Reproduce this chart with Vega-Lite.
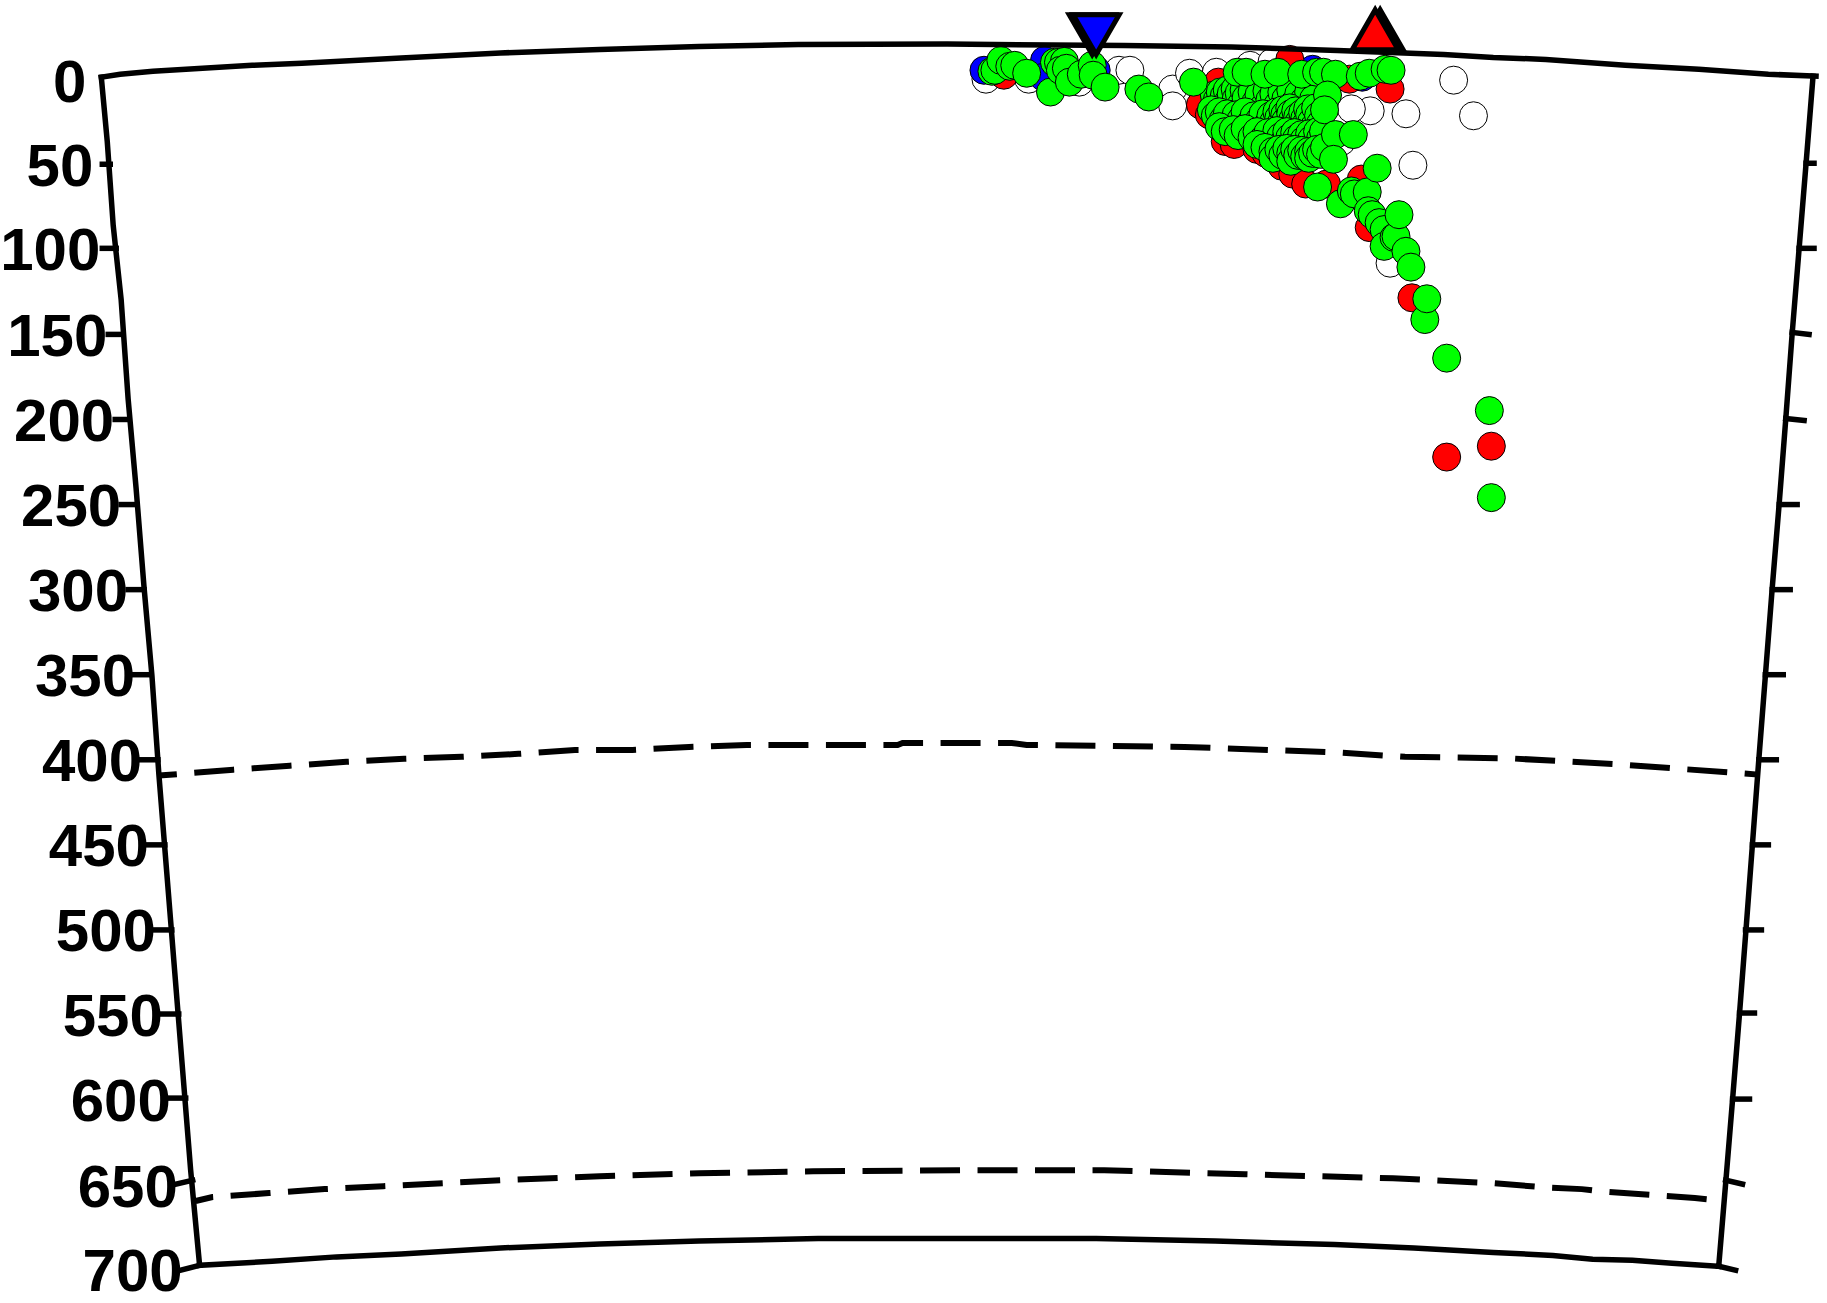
{"$schema":"https://vega.github.io/schema/vega-lite/v6.json","width":1827,"height":1303,"padding":0,"autosize":{"type":"fit","contains":"padding"},"config":{"view":{"stroke":null}},
"datasets":{
"lines":[
{"seg":"top","dist":98,"depth":75},{"seg":"top","dist":117,"depth":72},{"seg":"top","dist":150,"depth":69},{"seg":"top","dist":200,"depth":66},{"seg":"top","dist":250,"depth":63},{"seg":"top","dist":300,"depth":61},{"seg":"top","dist":400,"depth":55.5},{"seg":"top","dist":500,"depth":50.5},{"seg":"top","dist":600,"depth":47},{"seg":"top","dist":700,"depth":44},{"seg":"top","dist":800,"depth":42},{"seg":"top","dist":950,"depth":41.5},{"seg":"top","dist":1128,"depth":43},{"seg":"top","dist":1236,"depth":44.5},{"seg":"top","dist":1343,"depth":48},{"seg":"top","dist":1450,"depth":52},{"seg":"top","dist":1500,"depth":55},{"seg":"top","dist":1553,"depth":57},{"seg":"top","dist":1633,"depth":63},{"seg":"top","dist":1707,"depth":67},{"seg":"top","dist":1777,"depth":72},{"seg":"top","dist":1825,"depth":74},
{"seg":"left","dist":98,"depth":75},{"seg":"left","dist":104,"depth":140},{"seg":"left","dist":110,"depth":225},{"seg":"left","dist":118,"depth":300},{"seg":"left","dist":125,"depth":400},{"seg":"left","dist":133,"depth":490},{"seg":"left","dist":141,"depth":590},{"seg":"left","dist":149,"depth":680},{"seg":"left","dist":156,"depth":780},{"seg":"left","dist":164,"depth":880},{"seg":"left","dist":172,"depth":980},{"seg":"left","dist":180,"depth":1080},{"seg":"left","dist":188,"depth":1180},{"seg":"left","dist":197,"depth":1276},
{"seg":"right","dist":1822,"depth":74},{"seg":"right","dist":1815,"depth":162},{"seg":"right","dist":1808,"depth":248},{"seg":"right","dist":1801,"depth":334},{"seg":"right","dist":1794.5,"depth":421},{"seg":"right","dist":1788,"depth":505},{"seg":"right","dist":1781,"depth":590},{"seg":"right","dist":1774,"depth":680},{"seg":"right","dist":1767,"depth":770},{"seg":"right","dist":1761,"depth":850},{"seg":"right","dist":1755,"depth":930},{"seg":"right","dist":1748,"depth":1021},{"seg":"right","dist":1741,"depth":1108},{"seg":"right","dist":1734,"depth":1193},{"seg":"right","dist":1727,"depth":1277},
{"seg":"bottom","dist":197,"depth":1276},{"seg":"bottom","dist":270,"depth":1272},{"seg":"bottom","dist":335,"depth":1267.5},{"seg":"bottom","dist":400,"depth":1264.5},{"seg":"bottom","dist":500,"depth":1258.5},{"seg":"bottom","dist":600,"depth":1254.5},{"seg":"bottom","dist":700,"depth":1251.5},{"seg":"bottom","dist":820,"depth":1249},{"seg":"bottom","dist":960,"depth":1249},{"seg":"bottom","dist":1100,"depth":1249},{"seg":"bottom","dist":1220,"depth":1251.5},{"seg":"bottom","dist":1340,"depth":1255},{"seg":"bottom","dist":1420,"depth":1258.5},{"seg":"bottom","dist":1500,"depth":1263},{"seg":"bottom","dist":1560,"depth":1266},{"seg":"bottom","dist":1600,"depth":1270},{"seg":"bottom","dist":1640,"depth":1271},{"seg":"bottom","dist":1680,"depth":1274},{"seg":"bottom","dist":1727,"depth":1277},
{"seg":"l50","dist":99,"depth":163},{"seg":"l50","dist":107,"depth":163},{"seg":"l100","dist":99,"depth":248},{"seg":"l100","dist":113,"depth":248},{"seg":"l150","dist":105,"depth":335},{"seg":"l150","dist":119,"depth":335},{"seg":"l200","dist":112,"depth":421},{"seg":"l200","dist":126,"depth":421},{"seg":"l250","dist":118,"depth":507},{"seg":"l250","dist":134,"depth":507},{"seg":"l300","dist":125,"depth":593},{"seg":"l300","dist":141,"depth":593},{"seg":"l350","dist":131,"depth":679},{"seg":"l350","dist":148,"depth":679},{"seg":"l400","dist":138,"depth":765},{"seg":"l400","dist":155,"depth":765},{"seg":"l450","dist":145,"depth":851},{"seg":"l450","dist":162,"depth":851},{"seg":"l500","dist":152,"depth":937},{"seg":"l500","dist":169,"depth":937},{"seg":"l550","dist":159,"depth":1022},{"seg":"l550","dist":176,"depth":1022},{"seg":"l600","dist":167,"depth":1107},{"seg":"l600","dist":183,"depth":1107},{"seg":"l650","dist":173,"depth":1194},{"seg":"l650","dist":190,"depth":1190},{"seg":"l700","dist":178,"depth":1281},{"seg":"l700","dist":197,"depth":1276},
{"seg":"r50","dist":1815,"depth":162},{"seg":"r50","dist":1823,"depth":162},{"seg":"r100","dist":1808,"depth":248},{"seg":"r100","dist":1823,"depth":248},{"seg":"r150","dist":1801,"depth":333},{"seg":"r150","dist":1818,"depth":335},{"seg":"r200","dist":1794.5,"depth":420},{"seg":"r200","dist":1813,"depth":422},{"seg":"r250","dist":1788,"depth":507},{"seg":"r250","dist":1806,"depth":507},{"seg":"r300","dist":1781,"depth":593},{"seg":"r300","dist":1799,"depth":593},{"seg":"r350","dist":1774,"depth":679},{"seg":"r350","dist":1792,"depth":679},{"seg":"r400","dist":1767.5,"depth":765},{"seg":"r400","dist":1785,"depth":765},{"seg":"r450","dist":1761,"depth":851},{"seg":"r450","dist":1777,"depth":851},{"seg":"r500","dist":1754,"depth":937},{"seg":"r500","dist":1770,"depth":937},{"seg":"r550","dist":1748,"depth":1021},{"seg":"r550","dist":1763,"depth":1021},{"seg":"r600","dist":1741,"depth":1108},{"seg":"r600","dist":1758,"depth":1108},{"seg":"r650","dist":1734,"depth":1190},{"seg":"r650","dist":1751,"depth":1194},{"seg":"r700","dist":1727,"depth":1277},{"seg":"r700","dist":1744,"depth":1281}
],
"discontinuities":[
{"seg":"d410","dist":156,"depth":781},{"seg":"d410","dist":231,"depth":775},{"seg":"d410","dist":288,"depth":771},{"seg":"d410","dist":345,"depth":767},{"seg":"d410","dist":403,"depth":764},{"seg":"d410","dist":461,"depth":762},{"seg":"d410","dist":518,"depth":759},{"seg":"d410","dist":575,"depth":755},{"seg":"d410","dist":633,"depth":755},{"seg":"d410","dist":690,"depth":752},{"seg":"d410","dist":748,"depth":750},{"seg":"d410","dist":900,"depth":750},{"seg":"d410","dist":905,"depth":748},{"seg":"d410","dist":1015,"depth":748},{"seg":"d410","dist":1030,"depth":750},{"seg":"d410","dist":1189,"depth":752},{"seg":"d410","dist":1341,"depth":757.5},{"seg":"d410","dist":1411,"depth":762},{"seg":"d410","dist":1516,"depth":763.5},{"seg":"d410","dist":1632,"depth":770},{"seg":"d410","dist":1767,"depth":780},
{"seg":"d660","dist":193,"depth":1211},{"seg":"d660","dist":210,"depth":1207},{"seg":"d660","dist":267,"depth":1203},{"seg":"d660","dist":323,"depth":1199},{"seg":"d660","dist":382,"depth":1196},{"seg":"d660","dist":500,"depth":1190},{"seg":"d660","dist":600,"depth":1186},{"seg":"d660","dist":700,"depth":1183},{"seg":"d660","dist":815,"depth":1181},{"seg":"d660","dist":960,"depth":1180},{"seg":"d660","dist":1108,"depth":1180},{"seg":"d660","dist":1250,"depth":1184},{"seg":"d660","dist":1399,"depth":1188},{"seg":"d660","dist":1500,"depth":1193},{"seg":"d660","dist":1549,"depth":1197},{"seg":"d660","dist":1589,"depth":1199},{"seg":"d660","dist":1606,"depth":1201},{"seg":"d660","dist":1646,"depth":1204},{"seg":"d660","dist":1703,"depth":1208},{"seg":"d660","dist":1733,"depth":1211}
],
"labels":[
{"label":"0","dist":83,"depth":78},{"label":"50","dist":90,"depth":163},{"label":"100","dist":97,"depth":248},{"label":"150","dist":104,"depth":335},{"label":"200","dist":111,"depth":421},{"label":"250","dist":118,"depth":507},{"label":"300","dist":125,"depth":593},{"label":"350","dist":132,"depth":679},{"label":"400","dist":139,"depth":765},{"label":"450","dist":146,"depth":851},{"label":"500","dist":153,"depth":937},{"label":"550","dist":160,"depth":1022},{"label":"600","dist":168,"depth":1108},{"label":"650","dist":175,"depth":1195},{"label":"700","dist":180,"depth":1280}
],
"events":[
{"kind":"white","dist":989,"depth":77},{"kind":"white","dist":1032,"depth":77},{"kind":"white","dist":1083,"depth":80},{"kind":"white","dist":1123,"depth":68},{"kind":"white","dist":1134,"depth":68},{"kind":"white","dist":1177,"depth":87},{"kind":"white","dist":1177,"depth":104},{"kind":"white","dist":1194,"depth":71},{"kind":"white","dist":1221,"depth":70},{"kind":"white","dist":1255,"depth":63},{"kind":"white","dist":1277,"depth":60},{"kind":"white","dist":1460,"depth":78},{"kind":"white","dist":1480,"depth":114},{"kind":"white","dist":1376,"depth":109},{"kind":"white","dist":1412,"depth":112},{"kind":"white","dist":1419,"depth":164},{"kind":"white","dist":1357,"depth":107},{"kind":"white","dist":1396,"depth":263},{"kind":"white","dist":1347,"depth":140},
{"kind":"blue","dist":987,"depth":68},{"kind":"blue","dist":1048,"depth":58},{"kind":"blue","dist":1047,"depth":75},{"kind":"blue","dist":1100,"depth":68},{"kind":"blue","dist":1318,"depth":67},{"kind":"blue","dist":1368,"depth":75},
{"kind":"red","dist":1007,"depth":73},{"kind":"red","dist":1295,"depth":57},{"kind":"red","dist":1396,"depth":87},{"kind":"red","dist":1355,"depth":77},{"kind":"red","dist":1223,"depth":80},{"kind":"red","dist":1205,"depth":103},{"kind":"red","dist":1214,"depth":113},{"kind":"red","dist":1230,"depth":140},{"kind":"red","dist":1239,"depth":143},{"kind":"red","dist":1262,"depth":148},{"kind":"red","dist":1271,"depth":152},{"kind":"red","dist":1287,"depth":165},{"kind":"red","dist":1298,"depth":173},{"kind":"red","dist":1311,"depth":183},{"kind":"red","dist":1332,"depth":183},{"kind":"red","dist":1367,"depth":178},{"kind":"red","dist":1375,"depth":227},{"kind":"red","dist":1418,"depth":298},{"kind":"red","dist":1498,"depth":448},{"kind":"red","dist":1453,"depth":459},
{"kind":"green","dist":1054,"depth":90},{"kind":"green","dist":995,"depth":69},{"kind":"green","dist":998,"depth":68},{"kind":"green","dist":1004,"depth":58},{"kind":"green","dist":1013,"depth":64},{"kind":"green","dist":1018,"depth":63},{"kind":"green","dist":1030,"depth":71},{"kind":"green","dist":1058,"depth":60},{"kind":"green","dist":1062,"depth":60},{"kind":"green","dist":1068,"depth":59},{"kind":"green","dist":1064,"depth":68},{"kind":"green","dist":1070,"depth":66},{"kind":"green","dist":1073,"depth":80},{"kind":"green","dist":1085,"depth":72},{"kind":"green","dist":1096,"depth":63},{"kind":"green","dist":1097,"depth":73},{"kind":"green","dist":1109,"depth":85},{"kind":"green","dist":1143,"depth":87},{"kind":"green","dist":1153,"depth":95},
{"kind":"green","dist":1219,"depth":93},{"kind":"green","dist":1222,"depth":98},{"kind":"green","dist":1225,"depth":90},{"kind":"green","dist":1227,"depth":104},{"kind":"green","dist":1229,"depth":94},{"kind":"green","dist":1232,"depth":88},{"kind":"green","dist":1233,"depth":100},{"kind":"green","dist":1236,"depth":92},{"kind":"green","dist":1238,"depth":106},{"kind":"green","dist":1240,"depth":87},{"kind":"green","dist":1241,"depth":97},{"kind":"green","dist":1244,"depth":91},{"kind":"green","dist":1246,"depth":103},{"kind":"green","dist":1249,"depth":88},{"kind":"green","dist":1251,"depth":96},{"kind":"green","dist":1255,"depth":108},{"kind":"green","dist":1257,"depth":90},{"kind":"green","dist":1261,"depth":100},{"kind":"green","dist":1264,"depth":93},{"kind":"green","dist":1268,"depth":106},{"kind":"green","dist":1272,"depth":89},{"kind":"green","dist":1275,"depth":98},{"kind":"green","dist":1279,"depth":92},{"kind":"green","dist":1283,"depth":103},{"kind":"green","dist":1287,"depth":90},{"kind":"green","dist":1291,"depth":97},{"kind":"green","dist":1296,"depth":88},{"kind":"green","dist":1299,"depth":102},{"kind":"green","dist":1304,"depth":92},{"kind":"green","dist":1309,"depth":99},{"kind":"green","dist":1314,"depth":90},{"kind":"green","dist":1319,"depth":97},
{"kind":"green","dist":1216,"depth":108},{"kind":"green","dist":1220,"depth":114},{"kind":"green","dist":1224,"depth":110},{"kind":"green","dist":1228,"depth":118},{"kind":"green","dist":1232,"depth":112},{"kind":"green","dist":1237,"depth":121},{"kind":"green","dist":1241,"depth":113},{"kind":"green","dist":1246,"depth":118},{"kind":"green","dist":1250,"depth":110},{"kind":"green","dist":1255,"depth":122},{"kind":"green","dist":1259,"depth":114},{"kind":"green","dist":1264,"depth":119},{"kind":"green","dist":1268,"depth":112},{"kind":"green","dist":1272,"depth":124},{"kind":"green","dist":1276,"depth":114},{"kind":"green","dist":1279,"depth":120},{"kind":"green","dist":1282,"depth":110},{"kind":"green","dist":1284,"depth":116},{"kind":"green","dist":1286,"depth":122},{"kind":"green","dist":1288,"depth":108},{"kind":"green","dist":1290,"depth":113},{"kind":"green","dist":1291,"depth":119},{"kind":"green","dist":1293,"depth":125},{"kind":"green","dist":1295,"depth":106},{"kind":"green","dist":1296,"depth":112},{"kind":"green","dist":1298,"depth":118},{"kind":"green","dist":1299,"depth":124},{"kind":"green","dist":1301,"depth":109},{"kind":"green","dist":1303,"depth":115},{"kind":"green","dist":1304,"depth":121},{"kind":"green","dist":1306,"depth":127},{"kind":"green","dist":1308,"depth":111},{"kind":"green","dist":1310,"depth":117},{"kind":"green","dist":1311,"depth":123},{"kind":"green","dist":1313,"depth":107},{"kind":"green","dist":1315,"depth":113},{"kind":"green","dist":1317,"depth":120},{"kind":"green","dist":1319,"depth":126},{"kind":"green","dist":1321,"depth":106},{"kind":"green","dist":1324,"depth":114},{"kind":"green","dist":1326,"depth":122},
{"kind":"green","dist":1224,"depth":125},{"kind":"green","dist":1230,"depth":130},{"kind":"green","dist":1238,"depth":128},{"kind":"green","dist":1243,"depth":134},{"kind":"green","dist":1250,"depth":127},{"kind":"green","dist":1257,"depth":136},{"kind":"green","dist":1262,"depth":130},{"kind":"green","dist":1268,"depth":138},{"kind":"green","dist":1273,"depth":131},{"kind":"green","dist":1278,"depth":140},{"kind":"green","dist":1282,"depth":129},{"kind":"green","dist":1286,"depth":135},{"kind":"green","dist":1289,"depth":141},{"kind":"green","dist":1292,"depth":130},{"kind":"green","dist":1295,"depth":136},{"kind":"green","dist":1297,"depth":142},{"kind":"green","dist":1300,"depth":131},{"kind":"green","dist":1302,"depth":137},{"kind":"green","dist":1304,"depth":143},{"kind":"green","dist":1307,"depth":133},{"kind":"green","dist":1309,"depth":139},{"kind":"green","dist":1312,"depth":145},{"kind":"green","dist":1315,"depth":132},{"kind":"green","dist":1317,"depth":138},{"kind":"green","dist":1320,"depth":144},{"kind":"green","dist":1323,"depth":130},{"kind":"green","dist":1326,"depth":137},{"kind":"green","dist":1329,"depth":130},
{"kind":"green","dist":1262,"depth":143},{"kind":"green","dist":1270,"depth":146},{"kind":"green","dist":1278,"depth":150},{"kind":"green","dist":1278,"depth":157},{"kind":"green","dist":1284,"depth":148},{"kind":"green","dist":1288,"depth":154},{"kind":"green","dist":1292,"depth":147},{"kind":"green","dist":1296,"depth":152},{"kind":"green","dist":1296,"depth":160},{"kind":"green","dist":1300,"depth":148},{"kind":"green","dist":1303,"depth":154},{"kind":"green","dist":1307,"depth":149},{"kind":"green","dist":1310,"depth":155},{"kind":"green","dist":1314,"depth":150},{"kind":"green","dist":1314,"depth":157},{"kind":"green","dist":1318,"depth":152},{"kind":"green","dist":1322,"depth":148},{"kind":"green","dist":1326,"depth":153},{"kind":"green","dist":1330,"depth":146},
{"kind":"green","dist":1198,"depth":80},{"kind":"green","dist":1242,"depth":70},{"kind":"green","dist":1251,"depth":70},{"kind":"green","dist":1270,"depth":72},{"kind":"green","dist":1283,"depth":70},{"kind":"green","dist":1307,"depth":72},{"kind":"green","dist":1322,"depth":70},{"kind":"green","dist":1329,"depth":70},{"kind":"green","dist":1341,"depth":72},{"kind":"green","dist":1366,"depth":74},{"kind":"green","dist":1375,"depth":71},{"kind":"green","dist":1391,"depth":67},{"kind":"green","dist":1397,"depth":68},
{"kind":"green","dist":1333,"depth":93},{"kind":"green","dist":1330,"depth":108},{"kind":"green","dist":1341,"depth":133},{"kind":"green","dist":1359,"depth":133},{"kind":"green","dist":1339,"depth":158},
{"kind":"green","dist":1323,"depth":186},{"kind":"green","dist":1346,"depth":203},{"kind":"green","dist":1357,"depth":190},{"kind":"green","dist":1360,"depth":193},{"kind":"green","dist":1373,"depth":191},{"kind":"green","dist":1383,"depth":167},{"kind":"green","dist":1374,"depth":210},{"kind":"green","dist":1378,"depth":214},{"kind":"green","dist":1385,"depth":222},{"kind":"green","dist":1390,"depth":229},{"kind":"green","dist":1390,"depth":246},{"kind":"green","dist":1400,"depth":237},{"kind":"green","dist":1402,"depth":236},{"kind":"green","dist":1405,"depth":214},{"kind":"green","dist":1412,"depth":251},{"kind":"green","dist":1417,"depth":267},{"kind":"green","dist":1431,"depth":320},{"kind":"green","dist":1433,"depth":299},{"kind":"green","dist":1453,"depth":359},{"kind":"green","dist":1496,"depth":412},{"kind":"green","dist":1498,"depth":500}
],
"stations":[
{"kind":"down","colour":"blue","dist":1096,"depth":32},{"kind":"down","colour":"blue","dist":1100,"depth":32},
{"kind":"up","colour":"red","dist":1386,"depth":27},{"kind":"up","colour":"red","dist":1381,"depth":27}
]},
"layer":[
{"data":{"name":"events"},"mark":{"type":"point","filled":true,"stroke":"#000000","strokeWidth":1,"opacity":1,"size":784},
"encoding":{"x":{"field":"dist","type":"quantitative","scale":{"domain":[0,1827],"nice":false,"zero":false},"axis":null},"y":{"field":"depth","type":"quantitative","scale":{"domain":[1303,0],"nice":false,"zero":false},"axis":null},"shape":{"value":"circle"},"fill":{"field":"kind","type":"nominal","legend":null,"scale":{"domain":["white","blue","red","green"],"range":["#ffffff","#0000ff","#ff0000","#00ff00"]}}}},
{"data":{"name":"lines"},"mark":{"type":"line","color":"#000000","strokeWidth":5.5,"strokeCap":"square"},
"encoding":{"x":{"field":"dist","type":"quantitative"},"y":{"field":"depth","type":"quantitative"},"detail":{"field":"seg"}}},
{"data":{"name":"discontinuities"},"mark":{"type":"line","color":"#000000","strokeWidth":6,"strokeDash":[40,17.5],"strokeDashOffset":22},
"encoding":{"x":{"field":"dist","type":"quantitative"},"y":{"field":"depth","type":"quantitative"},"detail":{"field":"seg"}}},
{"data":{"name":"stations"},"mark":{"type":"point","filled":true,"stroke":"#000000","strokeWidth":5,"opacity":1,"size":2116},
"encoding":{"x":{"field":"dist","type":"quantitative"},"y":{"field":"depth","type":"quantitative"},"shape":{"field":"kind","type":"nominal","legend":null,"scale":{"domain":["down","up"],"range":["triangle-down","triangle-up"]}},"fill":{"field":"colour","type":"nominal","legend":null,"scale":{"domain":["blue","red"],"range":["#0000ff","#ff0000"]}}}},
{"data":{"name":"labels"},"mark":{"type":"text","font":"Liberation Sans","fontWeight":"bold","fontSize":60,"align":"right","baseline":"middle","dy":3.5,"color":"#000000"},
"encoding":{"x":{"field":"dist","type":"quantitative"},"y":{"field":"depth","type":"quantitative"},"text":{"field":"label","type":"nominal"}}}
],
"resolve":{"scale":{"fill":"independent"}}}
